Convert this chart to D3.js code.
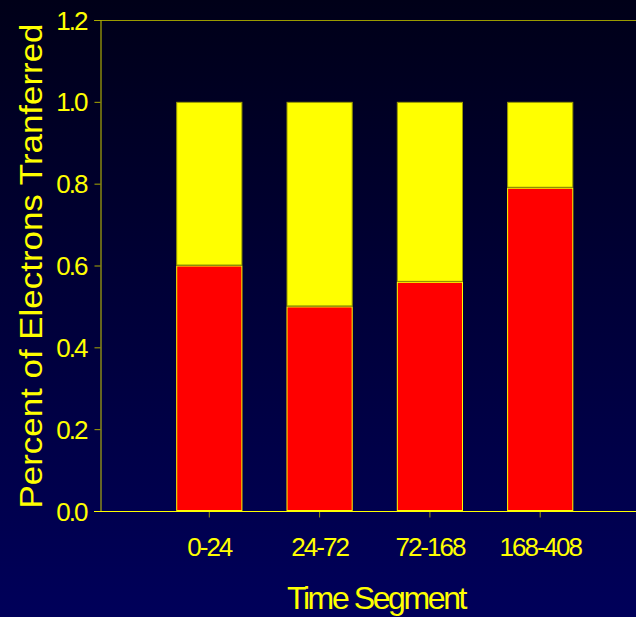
<!DOCTYPE html>
<html><head><meta charset="utf-8">
<script src="https://cdn.jsdelivr.net/npm/d3@7"></script>
<style>html,body{margin:0;padding:0;background:#000030;}svg{display:block;}</style>
</head><body>
<script>
const categories = ["0-24", "24-72", "72-168", "168-408"];
const redValues = [0.60, 0.50, 0.56, 0.79];
const yellowValues = [0.40, 0.50, 0.44, 0.21];
const yTicks = [0.0, 0.2, 0.4, 0.6, 0.8, 1.0, 1.2];
const yTitle = "Percent of Electrons Tranferred";
const xTitle = "Time Segment";

const W = 636, H = 617;
const svg = d3.select("body").append("svg").attr("width", W).attr("height", H);
const defs = svg.append("defs");
const grad = defs.append("linearGradient").attr("id", "bg").attr("x1", 0).attr("y1", 0).attr("x2", 0).attr("y2", 1);
grad.append("stop").attr("offset", "0%").attr("stop-color", "#000018");
grad.append("stop").attr("offset", "100%").attr("stop-color", "#00005a");
svg.append("rect").attr("width", W).attr("height", H).attr("fill", "url(#bg)");

const font = "'Liberation Sans', Arial, sans-serif";
const y = d3.scaleLinear().domain([0, 1.2]).range([511, 20]);
const x = d3.scaleBand().domain(categories).range([154.15, 595.35]).paddingInner(0.4).paddingOuter(0.2);

const data = categories.map((c, i) => ({c, red: redValues[i], yellow: yellowValues[i]}));
const stack = d3.stack().keys(["red", "yellow"])(data);
const colors = {red: "#ff0000", yellow: "#ffff00"};
const strokes = {red: "#ffff00", yellow: "#999900"};

stack.forEach(layer => {
  svg.append("g").selectAll("rect").data(layer).join("rect")
    .attr("x", d => x(d.data.c) + 0.5)
    .attr("y", d => y(d[1]) + 0.5)
    .attr("width", x.bandwidth() - 1)
    .attr("height", d => y(d[0]) - y(d[1]) - 1)
    .attr("fill", colors[layer.key])
    .attr("stroke", strokes[layer.key])
    .attr("stroke-width", 1);
});

// top border line
svg.append("line").attr("x1", 94).attr("x2", W).attr("y1", 20.5).attr("y2", 20.5)
  .attr("stroke", "#9a9a00").attr("stroke-width", 1);

// Y axis
const yAxis = svg.append("g").attr("transform", "translate(100.5,0)")
  .call(d3.axisLeft(y).tickValues(yTicks).tickFormat(d3.format(".1f")).tickSize(6).tickSizeOuter(0));
yAxis.select(".domain").attr("stroke", "#cccc00");
yAxis.selectAll(".tick line").attr("stroke", "#aaaa00");
yAxis.selectAll(".tick text").attr("fill", "#ffff00").attr("font-family", font)
  .attr("font-size", 26).attr("letter-spacing", -2).attr("x", -14).attr("dy", "0.35em");

// X axis
const xAxis = svg.append("g").attr("transform", "translate(0,511.5)")
  .call(d3.axisBottom(x).tickSize(6).tickSizeOuter(0));
xAxis.select(".domain").remove();
xAxis.append("line").attr("x1", 94).attr("x2", W).attr("y1", 0).attr("y2", 0).attr("stroke", "#ffff00");
xAxis.selectAll(".tick line").attr("stroke", "#9a9a00");
xAxis.selectAll(".tick text").attr("fill", "#ffff00").attr("font-family", font)
  .attr("font-size", 26).attr("letter-spacing", -2).attr("y", 44).attr("dy", 0);

// titles
svg.append("text").attr("transform", "translate(42,266) rotate(-90)")
  .attr("text-anchor", "middle").attr("fill", "#ffff00").attr("font-family", font)
  .attr("font-size", 32).attr("textLength", 485).attr("lengthAdjust", "spacingAndGlyphs").text(yTitle);
svg.append("text").attr("x", 376).attr("y", 609)
  .attr("text-anchor", "middle").attr("fill", "#ffff00").attr("font-family", font)
  .attr("font-size", 32).attr("letter-spacing", -2.4).text(xTitle);
</script>
</body></html>
